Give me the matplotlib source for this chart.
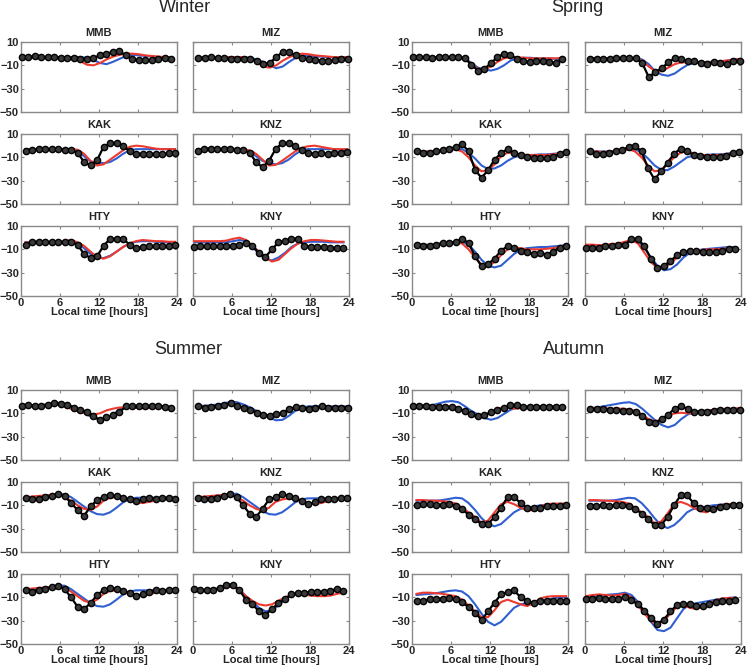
import matplotlib
matplotlib.use("Agg")
import matplotlib.pyplot as plt

plt.rcParams['font.family'] = ['Liberation Sans', 'DejaVu Sans']

seasons = ["Winter", "Spring", "Summer", "Autumn"]
stations = ["MMB", "MIZ", "KAK", "KNZ", "HTY", "KNY"]
hours = list(range(24))
station_offset = {"MMB": 0.15, "MIZ": 0.8, "KAK": 0.7, "KNZ": 0.7, "HTY": 0.7, "KNY": 0.15}
x_ticks = [0, 6, 12, 18, 24]
y_ticks = [10, -10, -30, -50]

# ---------------- Winter ----------------
winter_MMB_obs = [-3,-3,-2,-3,-3,-3,-3.5,-3.5,-3.5,-4.5,-4.5,-3.5,-1.5,0,1.5,2,-1.5,-5,-5.5,-5.5,-5.5,-5,-4,-4.5]
winter_MMB_red = [-3,-3,-3,-3,-3,-3,-3,-3,-4,-6.5,-9.5,-10,-8,-5,-2.5,-1,0,0,-0.5,-1.5,-2,-2.5,-3,-3]
winter_MMB_blue = [-3,-3,-3,-3,-3,-3,-3,-3,-3,-3,-3.5,-5.5,-8,-9,-7,-4.5,-2,-1,-1.5,-2,-2.5,-3,-3,-3]
winter_MIZ_obs = [-4,-4,-3,-4,-4,-4.5,-4.5,-4.5,-5,-6,-9,-8,-3,1.5,1,-1.5,-4,-5,-5.5,-6,-6.5,-5.5,-4.5,-4.5]
winter_MIZ_red = [-3,-3,-3,-3,-3,-3,-3,-3,-4,-7,-11,-12,-10,-6,-3,-1,0,-0.5,-1.5,-2,-2.5,-3,-3,-3]
winter_MIZ_blue = [-3,-3,-3,-3,-3,-3,-3,-3,-3.5,-5,-7,-10,-12.5,-11,-7,-3.5,-2,-2,-2.5,-2.5,-3,-3,-3,-3]
winter_KAK_obs = [-5,-3.5,-3,-3,-3,-3,-3.5,-4,-6,-14,-17,-12.5,-1,2,2,0,-5,-7,-7,-7,-7,-7.5,-6.5,-6]
winter_KAK_red = [-3,-3,-3.5,-3,-3,-3,-3,-3,-3.5,-7,-13,-17,-16,-12,-8,-4,-1,0,-0.5,-1.5,-2.5,-3,-3,-3]
winter_KAK_blue = [-3,-3,-3,-3,-3,-3,-3,-3.5,-5,-9,-13.5,-14.5,-15,-14,-11,-7,-4,-3,-3,-3,-3,-3,-3,-3]
winter_KNZ_obs = [-5,-2.5,-2.5,-3,-3,-3,-4,-4,-6,-14,-18.5,-13,-3,2,2,0,-4,-6.5,-7,-6.5,-7,-6,-6,-5.5]
winter_KNZ_red = [-3,-3,-4,-3.5,-3,-3,-2.5,-3,-4,-7,-12,-17,-16.5,-13,-9,-5,-2,-0.5,0,-1,-2,-3,-3,-3]
winter_KNZ_blue = [-3,-3,-3,-3,-3,-3,-3,-3.5,-5,-9,-13,-15,-16,-15,-12,-7.5,-4,-3,-3,-3,-3,-3,-3.5,-3.5]
winter_HTY_obs = [-6,-4,-3.5,-3.5,-4,-4,-4,-4,-6,-14,-17.5,-16,-7,-1,-1,-1,-6,-9,-8,-7.5,-7,-7,-7,-6]
winter_HTY_red = [-4,-4,-4,-4,-4,-4,-3,-2,-4,-7,-12,-16.5,-18,-16,-12,-8,-5,-3,-2,-2.5,-3,-3,-3.5,-3.5]
winter_HTY_blue = [-4,-4,-4,-4,-4,-4,-4,-3,-5,-9,-14,-17,-17.5,-15.5,-12,-8,-5,-3.5,-3,-3,-3.5,-4,-4,-4]
winter_KNY_obs = [-8,-7,-7.5,-7.5,-7,-7,-7,-6,-4.5,-7,-13,-16.5,-10,-4,-3,-1,-1,-7,-8,-8,-8,-9,-8.5,-8.5]
winter_KNY_red = [-3,-3,-3,-3,-3,-2.5,-1,0,-2,-7,-12,-17,-20.5,-19,-14,-9,-5,-3,-2,-2,-2.5,-3,-3.5,-3.5]
winter_KNY_blue = [-4,-4,-4,-4,-4,-4,-3,-2,-3,-8,-14,-18,-19.5,-17,-13,-8,-5,-4,-3.5,-3.5,-3.5,-4,-4,-4]

# ---------------- Spring ----------------
spring_MMB_obs = [-3,-3,-3,-3.5,-3,-3,-3,-3,-4,-9.5,-14.5,-13,-8,-3,0,-1,-4.5,-6,-7,-6.5,-6.5,-7,-8,-5]
spring_MMB_red = [-3,-3,-3,-3,-3,-3,-3,-3,-5,-9,-13,-13.5,-11,-7,-4,-3,-3,-3.5,-4,-4,-4,-4,-4,-3.5]
spring_MMB_blue = [-3,-3,-3,-3,-3,-3,-3,-3,-4,-8,-12,-13.5,-14.5,-13,-10,-6,-4,-3.5,-3.5,-4,-4,-4,-4.5,-4.5]
spring_MIZ_obs = [-4.5,-4.5,-4.5,-5,-4,-4,-4,-4,-8,-20,-16,-12.5,-7.5,-4,-5,-6,-6.5,-8,-9,-7.5,-8,-9,-6.5,-6]
spring_MIZ_red = [-4,-4,-4,-4,-4,-4,-4,-4,-6,-11,-15,-15,-12,-9,-7.5,-7.5,-7.5,-7.5,-7.5,-7,-6.5,-6,-5,-4.5]
spring_MIZ_blue = [-4,-4,-4,-4,-4,-4,-4,-4,-5,-9,-15,-18,-19,-17,-13,-9.5,-8,-7.5,-7,-7,-6.5,-6,-5,-4.5]
spring_KAK_obs = [-5,-6,-6,-5,-4,-3,-1,1,-4.5,-21,-27.5,-21,-12,-6.5,-3,-6,-8,-10,-10.5,-10.5,-10.5,-10,-7,-5.5]
spring_KAK_red = [-5,-5,-5,-5,-4,-3.5,-3,-5,-10,-17,-22,-21,-16,-9,-6,-6.5,-7.5,-8,-8,-8,-8,-7.5,-6.5,-5]
spring_KAK_blue = [-5,-5,-5,-5,-4.5,-4,-3,-3,-6,-11,-17,-20,-19.5,-17,-13,-10,-8.5,-8,-8,-7.5,-7.5,-7,-6.5,-5]
spring_KNZ_obs = [-5,-7,-7.5,-6,-5,-4,-1,0,-5,-19.5,-29,-22,-14.5,-7,-2.5,-5,-8,-9,-9.5,-9.5,-10,-9,-6.5,-5.5]
spring_KNZ_red = [-5,-5,-5.5,-5,-4.5,-4,-3,-5,-10,-17,-22,-21,-16,-10,-6,-5,-6.5,-8,-8,-8,-8,-7.5,-6.5,-5]
spring_KNZ_blue = [-5,-5,-5,-5,-4.5,-4,-3,-3,-6,-11,-17,-20.5,-21,-18,-14,-10,-8.5,-8,-8,-7.5,-7.5,-7,-6,-5]
spring_HTY_obs = [-6,-7.5,-7.5,-6,-4.5,-4.5,-4,-1,-4.5,-16,-24.5,-22.5,-18,-11,-7.5,-8.5,-11,-12.5,-14,-13,-14.5,-12,-8.5,-7.5]
spring_HTY_red = [-6,-6,-6.5,-6,-5,-4.5,-4,-5,-10,-17,-23,-24,-21,-15,-10,-8.5,-9,-10,-10,-10,-9.5,-9,-8,-7]
spring_HTY_blue = [-6,-6,-6,-6,-5,-4.5,-4,-3.5,-6,-12,-19,-24,-25.5,-24,-19,-14,-10.5,-9,-8.5,-8,-8,-7.5,-7,-6.5]
spring_KNY_obs = [-8.5,-9,-9,-7.5,-7.5,-6.5,-6,-1,-1,-7.5,-18,-26,-24,-20,-15,-12.5,-11.5,-11,-12.5,-12.5,-12.5,-11,-9.5,-10]
spring_KNY_red = [-6,-6,-6.5,-6,-5.5,-5,-3.5,-2,-5,-13,-21,-26,-26,-22,-17,-13,-11.5,-11,-10.5,-10,-10,-9.5,-9,-8.5]
spring_KNY_blue = [-7,-7,-7,-7,-6.5,-6,-5,-3,-3,-9,-17,-24,-28,-27,-23,-17,-13,-11,-10,-9.5,-9,-8.5,-8,-8]

# ---------------- Summer ----------------
summer_MMB_obs = [-4,-3,-3.5,-4,-3,-1.5,-2,-2.5,-5,-7,-8.5,-12,-16,-13.5,-11.5,-9,-4,-4,-3.5,-3.5,-3.5,-3.5,-4.5,-5.5]
summer_MMB_red = [-3.5,-3.5,-3.5,-3.5,-3,-2.5,-3,-5,-7,-9,-10.5,-11,-10,-7.5,-6,-5,-5,-5,-5.5,-5.5,-5.5,-5,-4.5,-4.5]
summer_MMB_blue = [-3.5,-3.5,-3.5,-3,-2,-1,-1,-2.5,-5,-8,-11,-14,-15.5,-14,-11,-7,-4,-3.5,-3.5,-3.5,-3.5,-3.5,-4,-4.5]
summer_MIZ_obs = [-3.5,-5,-4.5,-3.5,-3,-1.5,-4,-5,-7,-9.5,-11,-12,-10.5,-10,-6.5,-4.5,-5,-6,-5,-4,-5,-5,-5,-5]
summer_MIZ_red = [-4,-4,-4,-3.5,-2.5,-2,-3,-5,-7,-9,-11,-11.5,-10.5,-9,-7,-6,-6,-6,-6,-5.5,-5,-5,-4.5,-4.5]
summer_MIZ_blue = [-3.5,-3.5,-3,-2.5,-1.5,0,-0.5,-2.5,-5,-8,-11,-14,-16,-15.5,-12,-7.5,-5,-4,-4,-4,-4,-4,-4,-4]
summer_KAK_obs = [-3.5,-5,-4.5,-3,-2,-0.5,-2,-8,-14,-19,-11,-5.5,-3,-1.5,-2,-3.5,-5,-6.5,-5,-4,-4.5,-4,-3.5,-5]
summer_KAK_red = [-3,-2.5,-2,-1.5,-1,-0.5,-3,-6,-10,-13,-14,-11,-6,-3.5,-3,-4,-6,-7.5,-8,-7,-6,-5,-4,-4]
summer_KAK_blue = [-3.5,-3,-2.5,-2,-1,-0.5,-0.5,-3,-7,-11,-15,-17.5,-18,-16,-12,-7.5,-4.5,-3.5,-3.5,-3.5,-3.5,-3.5,-3.5,-3.5]
summer_KNZ_obs = [-3.5,-4.5,-4.5,-3.5,-2,-0.5,-3,-10,-17,-20,-13,-5,-3,0,-2,-4,-6,-9,-7.5,-4.5,-5,-4.5,-4,-4]
summer_KNZ_red = [-3,-2.5,-2,-1.5,-1,-0.5,-3,-6,-10,-13,-14.5,-12,-7,-5,-4,-5,-6.5,-8,-9,-8,-6.5,-5,-4,-4]
summer_KNZ_blue = [-3.5,-3,-2.5,-2,-1,-0.5,0,-3,-7,-11,-15,-17.5,-18,-16,-12,-7.5,-5,-4,-4,-4,-4,-4,-3.5,-3.5]
summer_HTY_obs = [-3.5,-5,-3.5,-2.5,-1.5,0,-3,-10,-18,-20,-15,-8,-4,-2,-2.5,-4.5,-6,-9,-7.5,-5,-4,-4.5,-4,-3.5]
summer_HTY_red = [-3,-2.5,-2,-1.5,-1,0,-2,-5,-9,-13,-14.5,-12,-7,-4.5,-4,-5,-6.5,-7.5,-8,-7.5,-6,-5,-4,-4]
summer_HTY_blue = [-3.5,-3,-2.5,-2,-1,0,0,-3,-7,-11,-15,-17.5,-18,-16,-12,-7.5,-5,-4,-4,-4,-4,-4,-3.5,-3.5]
summer_KNY_obs = [-3,-4,-4,-3.5,-2,1,1,-4,-12,-16,-22,-25,-20,-15,-11.5,-7.5,-6.5,-6.5,-5.5,-5.5,-5,-4.5,-2.5,-4.5]
summer_KNY_red = [-4,-4,-4,-3.5,-2.5,-1,-1,-4,-9,-13,-16,-17,-16,-13,-10,-8,-7.5,-8,-8.5,-9,-9,-8.5,-7,-6]
summer_KNY_blue = [-3.5,-3.5,-3.5,-3,-2,0,0,-3,-9,-14,-19,-22,-21,-17,-12,-8,-6,-5.5,-5.5,-5.5,-5,-5,-4.5,-4.5]

# ---------------- Autumn ----------------
autumn_MMB_obs = [-3.5,-3.5,-3.5,-4.5,-4.5,-4.5,-4.5,-6,-8,-10.5,-12.5,-11.5,-9,-7,-5.5,-3,-3,-4.5,-4.5,-4.5,-4.5,-4.5,-4.5,-4.5]
autumn_MMB_red = [-3.5,-3.5,-3.5,-4,-4,-4,-4,-5,-9,-12,-13.5,-12,-9,-6,-4.5,-5.5,-6,-5,-4,-3.5,-4,-4,-4,-4]
autumn_MMB_blue = [-3.5,-3.5,-3.5,-3,-1.5,0,0.5,-0.5,-4,-8,-11,-14,-15.5,-14,-10.5,-7,-5,-4.5,-4,-4,-4,-4,-4,-4]
autumn_MIZ_obs = [-6.5,-6.5,-6.5,-7,-7,-8,-8,-9,-12,-17,-18.5,-15,-11,-6,-3.5,-6.5,-8.5,-8.5,-8.5,-8,-7.5,-7.5,-7.5,-7.5]
autumn_MIZ_red = [-5.5,-5.5,-5.5,-6,-6,-6,-6.5,-8,-11,-15,-17,-15,-12,-10,-9.5,-10,-10,-9,-8,-7,-6.5,-6,-6,-5.5]
autumn_MIZ_blue = [-5.5,-5,-4,-3,-2,-1,-0.5,-2,-6,-11,-16,-20,-22,-20,-15,-11,-9,-8,-7.5,-7,-7,-6.5,-6.5,-6]
autumn_KAK_obs = [-10,-9,-9,-9.5,-9.5,-9,-10.5,-13.5,-18,-22,-26,-26,-20,-12,-3,-3,-8,-12,-12.5,-12,-10.5,-10.5,-10.5,-10]
autumn_KAK_red = [-5.5,-5.5,-6,-6,-6.5,-7,-8.5,-12,-16,-20,-25,-23,-16,-9,-7,-9,-12,-14.5,-14,-11,-9,-8.5,-8.5,-8.5]
autumn_KAK_blue = [-6,-6,-6,-6,-5.5,-4.5,-3.5,-4,-8,-14,-21,-26,-28,-26,-21,-16,-13,-12,-11,-10,-9.5,-9,-9,-9]
autumn_KNZ_obs = [-10.5,-10.5,-10,-10.5,-10,-9.5,-10.5,-13,-17,-22,-27,-27,-20,-10,-1.5,-1.5,-8,-12,-12.5,-13.5,-11.5,-10.5,-10,-9.5]
autumn_KNZ_red = [-5.5,-5.5,-6,-6,-6.5,-7,-8.5,-12,-16,-20,-25.5,-24,-17,-9,-7,-9,-12,-15,-16,-13,-10,-9,-9,-9]
autumn_KNZ_blue = [-6,-6,-6,-6,-5.5,-4.5,-3.5,-4,-8,-14,-21,-27,-29.5,-27,-22,-16,-13,-12,-11,-10,-9.5,-9,-9,-9]
autumn_HTY_obs = [-13,-13,-11.5,-11.5,-11,-10.5,-11.5,-14,-18.5,-23,-29.5,-22,-14.5,-7.5,-5.5,-4,-10,-13,-15,-13.5,-13,-13.5,-13,-13]
autumn_HTY_red = [-7,-6,-6,-6.5,-7,-8,-9,-12,-17,-22,-27,-27,-21,-14,-12,-14,-16,-17.5,-15,-11,-9.5,-9,-9,-9]
autumn_HTY_blue = [-8,-7.5,-7,-6.5,-5.5,-4.5,-4,-5,-9,-16,-24,-31,-34,-31,-25,-19,-16,-15,-14,-13,-12,-11,-10,-10]
autumn_KNY_obs = [-11.5,-11,-10.5,-11,-11.5,-11,-9.5,-12.5,-16,-21.5,-27.5,-32.5,-29,-22,-16.5,-16,-16,-17.5,-17,-16,-14,-13,-13,-12.5]
autumn_KNY_red = [-9,-8,-7.5,-8,-8.5,-8,-7,-10,-17,-24,-30,-33,-30,-24,-18,-17,-19,-20,-18,-15,-12.5,-11,-10.5,-10.5]
autumn_KNY_blue = [-9,-9,-8.5,-8,-7.5,-7,-6,-8,-14,-22,-31,-38,-39,-36,-28,-20,-16,-15,-14,-13,-12,-11,-10.5,-10]

g = globals()
series = {(s, st, k): g[f"{s.lower()}_{st}_{k}"] for s in seasons for st in stations for k in ("obs", "red", "blue")}

# ---------------- layout ----------------
W, H = 750, 667
fig = plt.figure(figsize=(7.5, 6.67), dpi=100)

season_origin = {"Winter": (0, 0), "Spring": (1, 0), "Summer": (0, 1), "Autumn": (1, 1)}
col_left = [[21, 193], [412, 585]]
row_top = [[42, 134, 226], [390, 482, 574]]
ax_w, ax_h = 156, 70
title_pos = {"Winter": (185, 8), "Spring": (577, 8), "Summer": (188, 350), "Autumn": (574, 350)}

RED = '#ee3a2e'
BLUE = '#2f5fd0'
SPINE = '#8a8a8a'
TXT = '#262626'

for s in seasons:
    sc, sr = season_origin[s]
    tx, ty = title_pos[s]
    fig.text(tx / W, 1 - ty / H, s, ha='center', va='center', fontsize=13, color=TXT)
    for k, st in enumerate(stations):
        r, c = divmod(k, 2)
        left = col_left[sc][c]
        top = row_top[sr][r]
        ax = fig.add_axes([left / W, 1 - (top + ax_h) / H, ax_w / W, ax_h / H])
        t = [h + station_offset[st] for h in hours]
        ax.plot(t, series[(s, st, "blue")], color=BLUE, lw=1.5, zorder=2)
        ax.plot(t, series[(s, st, "red")], color=RED, lw=1.5, zorder=3)
        ax.plot(t, series[(s, st, "obs")], color='black', lw=1.6, marker='o',
                markersize=4.5, markerfacecolor='#3a3a3a', markeredgecolor='black',
                markeredgewidth=1.0, zorder=4, clip_on=False)
        ax.set_xlim(0, 24)
        ax.set_ylim(-50, 10)
        ax.set_yticks(y_ticks)
        ax.set_xticks(x_ticks)
        for sp in ax.spines.values():
            sp.set_color(SPINE)
            sp.set_linewidth(1.0)
        ax.tick_params(direction='in', length=2, width=0.8, color=SPINE,
                       top=True, right=True, labelsize=8, labelcolor=TXT, pad=1.5)
        for lab in ax.get_xticklabels() + ax.get_yticklabels():
            lab.set_fontweight('bold')
        if r == 2:
            ax.set_xlabel("Local time [hours]", fontsize=8, fontweight='bold', color=TXT, labelpad=-0.5)
        else:
            ax.set_xticklabels([])
        if c == 1:
            ax.set_yticklabels([])
        ax.set_title(st, fontsize=8, fontweight='bold', color=TXT, pad=4)

fig.savefig("out.png", dpi=100)
